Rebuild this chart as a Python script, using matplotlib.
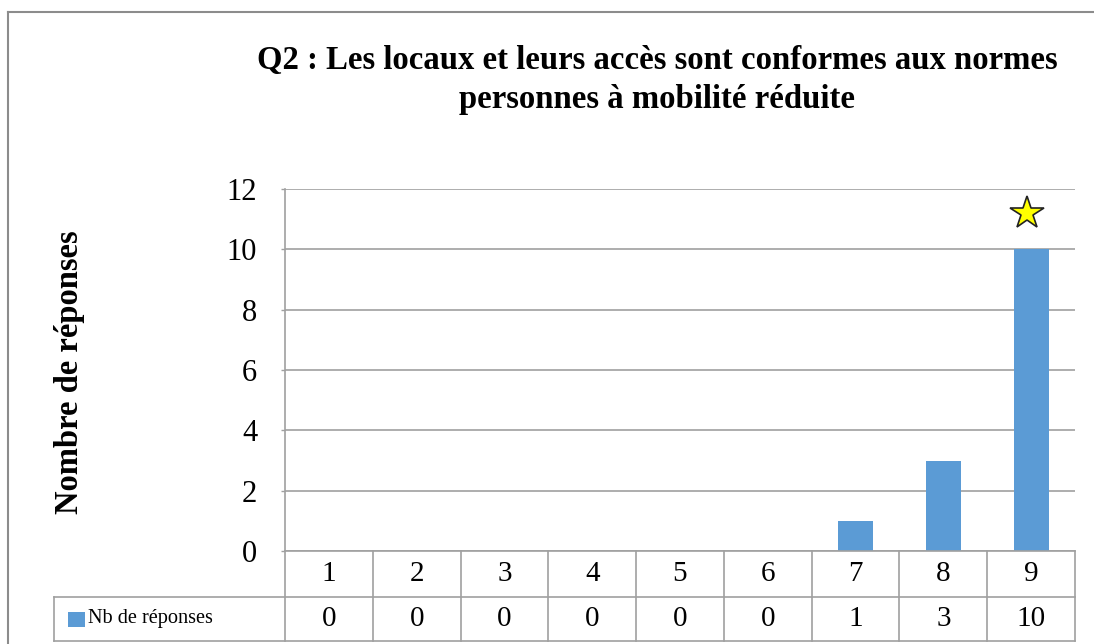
import matplotlib
matplotlib.use("Agg")
import matplotlib.pyplot as plt
import matplotlib.transforms as mtransforms
from matplotlib.lines import Line2D
from matplotlib.patches import Rectangle

# ---- data ----
categories = ["1", "2", "3", "4", "5", "6", "7", "8", "9"]
nb_reponses = [0, 0, 0, 0, 0, 0, 1, 3, 10]
series_name = "Nb de réponses"
yticks = [0, 2, 4, 6, 8, 10, 12]
title = "Q2 : Les locaux et leurs accès sont conformes aux normes\npersonnes à mobilité réduite"
ylabel = "Nombre de réponses"
star_category = "9"

W, H = 1094, 644
DPI = 100
fig = plt.figure(figsize=(W / DPI, H / DPI), dpi=DPI)
fig.patch.set_facecolor("white")

serif = ["Liberation Serif", "DejaVu Serif"]
grid_c = "#a0a0a0"
bar_c = "#5B9BD5"

def fx(px):
    return px / W

def fy(py):
    return 1 - py / H

# outer chart frame (extends past the right/bottom edge)
fig.add_artist(Line2D([fx(8), fx(8)], [fy(12), fy(700)], color="#8c8c8c", lw=1.5,
                      transform=fig.transFigure))
fig.add_artist(Line2D([fx(8), fx(1200)], [fy(12), fy(12)], color="#8c8c8c", lw=1.5,
                      transform=fig.transFigure))

ax_l, ax_r, ax_t, ax_b = 285, 1075, 189, 551
ax = fig.add_axes([fx(ax_l), fy(ax_b), (ax_r - ax_l) / W, (ax_b - ax_t) / H])
x = list(range(len(categories)))
ax.bar(x, nb_reponses, width=0.4, color=bar_c, zorder=3)
ax.set_xlim(-0.5, len(categories) - 0.5)
ax.set_ylim(0, 12)
ax.set_yticks(yticks)
ax.set_yticklabels([str(v) for v in yticks], fontfamily=serif, fontsize=22)
ax.tick_params(axis="y", length=3, width=1, color=grid_c, pad=17)
ax.set_xticks([])
ax.yaxis.grid(True, color=grid_c, lw=1.2, zorder=0)
for s in ["top", "right", "bottom"]:
    ax.spines[s].set_visible(False)
ax.spines["left"].set_color(grid_c)
ax.spines["left"].set_linewidth(1.2)

# star annotation above the highlighted bar
si = categories.index(star_category)
ax.plot([si - 0.05], [nb_reponses[si] + 1.2], marker="*", markersize=25,
        markerfacecolor="#FFFF00", markeredgecolor="#222222", markeredgewidth=1.2,
        zorder=5, clip_on=False)

# ---- data table below ----
trans = mtransforms.blended_transform_factory(ax.transData, ax.transAxes)
hpx = ax_b - ax_t
r1 = -(597 - ax_b) / hpx
r2 = -(641 - ax_b) / hpx
n = len(categories)
px_per_unit = (ax_r - ax_l) / n
leg_left = -0.5 - (ax_l - 54) / px_per_unit
lw = 1.2
# horizontal lines
ax.plot([-0.5, n - 0.5], [0, 0], color=grid_c, lw=lw, transform=trans, clip_on=False, zorder=4)
ax.plot([leg_left, n - 0.5], [r1, r1], color=grid_c, lw=lw, transform=trans, clip_on=False)
ax.plot([leg_left, n - 0.5], [r2, r2], color=grid_c, lw=lw, transform=trans, clip_on=False)
# vertical lines
for b in range(n + 1):
    ax.plot([b - 0.5, b - 0.5], [0, r2], color=grid_c, lw=lw, transform=trans, clip_on=False)
ax.plot([leg_left, leg_left], [r1, r2], color=grid_c, lw=lw, transform=trans, clip_on=False)

for i, (c, v) in enumerate(zip(categories, nb_reponses)):
    ax.text(i, r1 / 2, c, ha="center", va="center", fontfamily=serif, fontsize=21,
            transform=trans)
    ax.text(i, (r1 + r2) / 2, str(v), ha="center", va="center", fontfamily=serif,
            fontsize=21, transform=trans)

# legend key + name
key_w = 17 / px_per_unit
ax.add_patch(Rectangle((leg_left + 14 / px_per_unit, (r1 + r2) / 2 - 7.5 / hpx), key_w, 15 / hpx,
                       facecolor=bar_c, edgecolor="none", transform=trans, clip_on=False))
ax.text(leg_left + 34 / px_per_unit, (r1 + r2) / 2, series_name, ha="left", va="center",
        fontfamily=serif, fontsize=14.6, transform=trans)

# titles
fig.text(fx(657), fy(80), title, ha="center", va="center", ma="center",
         fontfamily=serif, fontweight="bold", fontsize=23.6, linespacing=1.3)
fig.text(fx(70), fy(372), ylabel, ha="center", va="center", rotation=90,
         fontfamily=serif, fontweight="bold", fontsize=23.5)

fig.savefig("out.png", dpi=DPI, facecolor="white")
